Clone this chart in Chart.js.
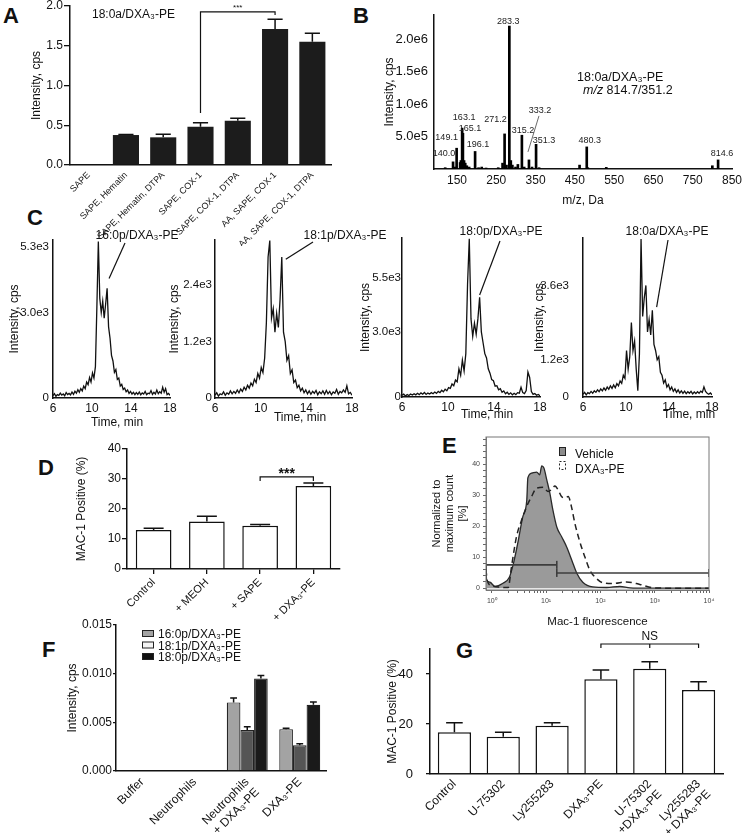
<!DOCTYPE html>
<html>
<head>
<meta charset="utf-8">
<title>DXA3-PE figure</title>
<script src="https://cdn.jsdelivr.net/npm/chart.js@4.4.1/dist/chart.umd.min.js"></script>
<style>
  html, body { margin: 0; padding: 0; background: #fff; }
  #figure { position: relative; width: 750px; height: 833px; overflow: hidden; background: #fff; }
  .panel { position: absolute; }
  .panel canvas { display: block; }
  .letter { position: absolute; font-family: "Liberation Sans", Arial, sans-serif; font-weight: bold; font-size: 22px; line-height: 1; color: #111; }
</style>
</head>
<body>
<div id="figure">
  <div class="letter" style="left:3px;top:5px">A</div>
  <div class="letter" style="left:353px;top:5px">B</div>
  <div class="letter" style="left:27px;top:207px">C</div>
  <div class="letter" style="left:38px;top:457px">D</div>
  <div class="letter" style="left:442px;top:435px">E</div>
  <div class="letter" style="left:42px;top:639px">F</div>
  <div class="letter" style="left:456px;top:640px">G</div>
</div>
<script>
// ---------- data ----------

// A: 18:0a/DXA3-PE formation
const aCategories = ["SAPE", "SAPE, Hematin", "SAPE, Hematin, DTPA", "SAPE, COX-1", "SAPE, COX-1, DTPA", "AA, SAPE, COX-1", "AA, SAPE, COX-1, DTPA"];
const aValues = [0, 0.377, 0.348, 0.482, 0.557, 1.711, 1.551];
const aErrors = [0, 0.008, 0.038, 0.05, 0.03, 0.122, 0.105];
const aTicks = [0, 0.5, 1.0, 1.5, 2.0];

// B: MS/MS spectrum
const bMz = [120, 140.0, 145, 149.1, 158, 160, 163.1, 165.1, 168, 171, 175, 181, 196.1, 205, 213, 224, 255, 266, 271.2, 276, 283.3, 287, 291, 299, 305, 315.2, 321, 333.2, 341, 351.3, 359, 462, 480.3, 483, 530, 800, 814.6];
const bIntensity = [2e4, 1.1e5, 3e4, 3.2e5, 1.0e5, 1.3e5, 6.3e5, 5.5e5, 1.3e5, 9e4, 5e4, 3e4, 2.7e5, 2e4, 3e4, 1.5e4, 2e4, 9e4, 5.4e5, 6e4, 2.2e6, 1.3e5, 6e4, 3e4, 7e4, 5.2e5, 3e4, 1.4e5, 3e4, 3.8e5, 2e4, 6e4, 3.4e5, 2e4, 2.5e4, 5e4, 1.4e5];
const bLabeledMz = [140.0, 149.1, 163.1, 165.1, 196.1, 271.2, 283.3, 315.2, 333.2, 351.3, 480.3, 814.6];
const bTicksX = [150, 250, 350, 450, 550, 650, 750, 850];
const bTicksY = [5e5, 1e6, 1.5e6, 2e6];

// C: LC chromatograms
const cTimes = [
  6.00, 6.15, 6.30, 6.45, 6.60, 6.75, 6.90, 7.05, 7.20, 7.35,
  7.50, 7.65, 7.80, 7.95, 8.10, 8.25, 8.40, 8.55, 8.70, 8.85,
  9.00, 9.15, 9.30, 9.45, 9.60, 9.75, 9.90, 10.05, 10.20, 10.35,
  10.50, 10.65, 10.80, 10.95, 11.10, 11.25, 11.40, 11.55, 11.70, 11.85,
  12.00, 12.15, 12.30, 12.45, 12.60, 12.75, 12.90, 13.05, 13.20, 13.35,
  13.50, 13.65, 13.80, 13.95, 14.10, 14.25, 14.40, 14.55, 14.70, 14.85,
  15.00, 15.15, 15.30, 15.45, 15.60, 15.75, 15.90, 16.05, 16.20, 16.35,
  16.50, 16.65, 16.80, 16.95, 17.10, 17.25, 17.40, 17.55, 17.70, 17.85,
  18.00];
const c160p = [
  80, 150, 60, 120, 90, 170, 100, 140, 80, 190,
  120, 160, 110, 210, 130, 240, 170, 290, 200, 330,
  250, 420, 330, 560, 470, 720, 560, 880, 700, 1100,
  3200, 5500, 3500, 3000, 3400, 2800, 3300, 3850, 2500, 2100,
  1500, 1300, 900, 1000, 650, 700, 420, 480, 300, 350,
  220, 280, 160, 230, 140, 200, 120, 190, 130, 210,
  110, 180, 140, 230, 120, 170, 150, 260, 130, 200,
  140, 280, 150, 220, 170, 380, 200, 330, 120, 160,
  90];
const c181p = [
  60, 110, 40, 90, 70, 130, 60, 110, 80, 150,
  90, 140, 100, 170, 110, 190, 140, 230, 170, 270,
  210, 320, 260, 400, 330, 520, 420, 650, 540, 850,
  1600, 3000, 3350, 1700, 1900, 1400, 1800, 1500, 2100, 3000,
  1400, 1200, 800, 900, 520, 600, 330, 380, 220, 270,
  150, 210, 110, 170, 90, 150, 80, 140, 100, 160,
  70, 130, 90, 150, 80, 160, 90, 140, 70, 130,
  100, 180, 80, 140, 110, 170, 120, 260, 90, 120,
  60];
const c180p = [
  80, 130, 50, 110, 70, 140, 90, 150, 100, 170,
  110, 190, 130, 210, 120, 180, 140, 200, 150, 230,
  170, 260, 200, 310, 240, 360, 290, 430, 400, 600,
  520, 780, 700, 1300, 1000, 1700, 1200, 2000, 5200, 7300,
  3600, 2800, 3400, 2900, 3600, 4600, 3000, 2500, 2000, 1800,
  1300, 1100, 800, 750, 500, 520, 330, 380, 220, 280,
  150, 220, 120, 190, 100, 170, 110, 200, 180, 450,
  200, 160, 300, 1150, 900, 250, 120, 160, 80, 120,
  60];
const c180a = [
  90, 150, 70, 140, 110, 180, 120, 200, 150, 230,
  170, 260, 200, 290, 220, 320, 250, 360, 280, 390,
  300, 430, 360, 520, 440, 700, 600, 1500, 900, 1300,
  2400, 1500, 1800, 900, 200, 1400, 5100, 2600, 3200, 3600,
  2100, 2500, 2000, 2800, 1700, 1500, 1200, 1300, 800, 700,
  450, 550, 320, 400, 230, 320, 180, 260, 150, 230,
  130, 200, 120, 190, 110, 170, 120, 180, 100, 160,
  110, 170, 120, 190, 150, 330, 180, 120, 90, 130,
  70];
const cTicksX = [6, 10, 14, 18];

// D: MAC-1 positive neutrophils
const dCategories = ["Control", "+ MEOH", "+ SAPE", "+ DXA₃-PE"];
const dValues = [13.0, 15.8, 14.4, 27.7];
const dErrors = [0.6, 1.8, 0.4, 1.0];

// E: flow cytometry histograms
const eVehicleX = [0.78, 0.8, 0.92, 1.13, 1.6, 2.1, 2.5, 3.0, 3.7, 4.4, 4.6, 5.5, 6.7, 7.6, 8.3, 9.1, 10.3, 11.7, 13.3, 15.7, 19.4, 24, 29.7, 36.7, 47.3, 72.5, 130, 228, 350, 715, 2000, 10000];
const eVehicleY = [7.2, 2.6, 1.9, 0.6, 1.6, 3.5, 8.0, 14.5, 22.9, 28.4, 35.5, 37.1, 37.4, 36.5, 39.4, 38.7, 34.8, 30.6, 25.2, 19.7, 16.5, 13.2, 9.0, 4.8, 1.9, 0.4, 0.2, 0.6, 0.1, 0, 0, 0];
const eDxaX = [0.78, 0.82, 1.0, 1.4, 2.0, 2.3, 2.84, 3.52, 4.35, 5.38, 6.65, 8.83, 10.9, 12.6, 14.5, 16.7, 19.2, 22.1, 25.5, 29.3, 33.8, 41.8, 51.6, 63.8, 84.7, 112, 171, 302, 532, 935, 1650, 10000];
const eDxaY = [6.0, 2.5, 0.8, 0.3, 0.2, 6.9, 16.5, 21.9, 26.2, 29.5, 32.2, 32.5, 31.1, 31.8, 32.9, 31.6, 29.5, 29.1, 29.5, 26.2, 20.9, 14.9, 10.1, 5.8, 3.1, 1.7, 1.5, 2.0, 1.2, 0.1, 0, 0];
const eGate1X = [0.78, 15.7];
const eGate1Y = [7.5, 7.5];
const eGate2X = [15.7, 10000];
const eGate2Y = [4.9, 4.9];
const eMajorTicks = [1, 10, 100, 1000, 10000];
const eMajorLabels = ["10⁰", "10¹", "10²", "10³", "10⁴"];
const eYLabels = [0, 10, 20, 30, 40];

// F: PE species in neutrophils
const fCategories = ["Buffer", "Neutrophils", ["Neutrophils", "+ DXA₃-PE"], "DXA₃-PE"];
const fSeries = ["16:0p/DXA₃-PE", "18:1p/DXA₃-PE", "18:0p/DXA₃-PE"];
const f160p = [0, 0, 0.00705, 0.0043];
const f181p = [0, 0, 0.0042, 0.00264];
const f180p = [0, 0, 0.0095, 0.0068];
const f160pErr = [0, 0, 0.00045, 0.0001];
const f181pErr = [0, 0, 0.00035, 0.00016];
const f180pErr = [0, 0, 0.0003, 0.0003];
const fTicks = [0, 0.005, 0.01, 0.015];

// G: receptor antagonists
const gCategories = ["Control", "U-75302", "Ly255283", "DXA₃-PE", ["U-75302", "+DXA₃-PE"], ["Ly255283", "+ DXA₃-PE"]];
const gValues = [16.7, 14.9, 19.3, 37.9, 42.1, 33.6];
const gErrors = [3.8, 1.8, 1.2, 3.7, 2.8, 3.3];
const gTicks = [0, 20, 40];

// ---------- shared setup ----------
const FONT = "'Liberation Sans', Arial, Helvetica, sans-serif";
const INK = "#111";
Chart.defaults.font.family = FONT;
Chart.defaults.color = INK;
Chart.defaults.animation = false;
Chart.defaults.responsive = false;
Chart.defaults.devicePixelRatio = 1;
Chart.defaults.events = [];
Chart.defaults.plugins.legend.display = false;
Chart.defaults.plugins.tooltip.enabled = false;

const figure = document.getElementById("figure");

function setup(box) {
  const holder = document.createElement("div");
  holder.className = "panel";
  holder.style.left = box.x + "px";
  holder.style.top = box.y + "px";
  const canvas = document.createElement("canvas");
  canvas.width = box.w;
  canvas.height = box.h;
  holder.appendChild(canvas);
  figure.appendChild(holder);
  return canvas.getContext("2d");
}

// put the plot area exactly at `area` (page coords) inside `box`
function layoutFor(box, area) {
  return { padding: { left: 0, top: area.y0 - box.y, right: box.x + box.w - area.x1, bottom: 0 } };
}
const fitWidth = (box, area) => (s) => { s.width = area.x0 - box.x; };
const fitHeight = (box, area) => (s) => { s.height = box.y + box.h - area.y1; };

function yTitle(text, cx, box, size) {
  return { display: true, text, color: INK, font: { size }, padding: { top: cx - box.x - size * 0.6, bottom: 0 } };
}
function xTitle(text, cy, box, size) {
  return { display: true, text, color: INK, font: { size }, padding: { top: 0, bottom: box.y + box.h - cy - size * 0.6 } };
}
const fixedTicks = (list) => (s) => { s.ticks = list.map((v) => ({ value: v })); };

// error bars (upper only) from dataset.errors
const errorBars = {
  id: "errorBars",
  afterDatasetsDraw(chart) {
    const ctx = chart.ctx;
    const y = chart.scales.y;
    chart.data.datasets.forEach((ds, di) => {
      if (!ds.errors) return;
      const meta = chart.getDatasetMeta(di);
      ctx.save();
      ctx.strokeStyle = INK;
      ctx.lineWidth = 1.5;
      meta.data.forEach((bar, i) => {
        const err = ds.errors[i];
        if (!err) return;
        const top = y.getPixelForValue(ds.data[i] + err);
        const half = bar.width * ds.capFrac;
        ctx.beginPath();
        ctx.moveTo(bar.x, bar.y);
        ctx.lineTo(bar.x, top);
        ctx.moveTo(bar.x - half, top);
        ctx.lineTo(bar.x + half, top);
        ctx.stroke();
      });
      ctx.restore();
    });
  },
};

// significance bracket between two categories
function bracket(spec) {
  return {
    id: "bracket",
    afterDatasetsDraw(chart) {
      const { ctx, scales: { x, y } } = chart;
      const xl = x.getPixelForValue(spec.from);
      const xr = x.getPixelForValue(spec.to);
      const yt = y.getPixelForValue(spec.top);
      ctx.save();
      ctx.strokeStyle = INK;
      ctx.lineWidth = 1.2;
      ctx.beginPath();
      ctx.moveTo(xl, y.getPixelForValue(spec.leftEnd));
      ctx.lineTo(xl, yt);
      ctx.lineTo(xr, yt);
      ctx.lineTo(xr, y.getPixelForValue(spec.rightEnd));
      if (spec.mid != null) {
        const xm = x.getPixelForValue(spec.mid);
        ctx.moveTo(xm, yt);
        ctx.lineTo(xm, y.getPixelForValue(spec.rightEnd));
      }
      ctx.stroke();
      ctx.fillStyle = INK;
      ctx.font = spec.font + " " + FONT;
      ctx.textAlign = "center";
      ctx.textBaseline = "alphabetic";
      ctx.fillText(spec.label, (xl + xr) / 2, yt + spec.baseline);
      ctx.restore();
    },
  };
}

// free text, leader lines and legend swatches, in page coordinates
function drawParts(ctx, n) {
  const size = n.size || 12;
  const parts = n.parts || [{ t: n.text }];
  const fontOf = (p) => (p.italic ? "italic " : "") + (n.bold ? "bold " : "") + size + "px " + FONT;
  let total = 0;
  parts.forEach((p) => { ctx.font = fontOf(p); total += ctx.measureText(p.t).width; });
  let x = n.x;
  if (n.align === "center") x -= total / 2;
  if (n.align === "right") x -= total;
  ctx.textAlign = "left";
  ctx.textBaseline = "middle";
  ctx.fillStyle = n.color || INK;
  parts.forEach((p) => {
    ctx.font = fontOf(p);
    ctx.fillText(p.t, x, n.y);
    x += ctx.measureText(p.t).width;
  });
}

function notes(box, items, frame) {
  return {
    id: "notes",
    afterDraw(chart) {
      const ctx = chart.ctx;
      const sx = chart.scales.x;
      const sy = chart.scales.y;
      ctx.save();
      if (frame) {
        const a = chart.chartArea;
        ctx.strokeStyle = "#777";
        ctx.lineWidth = 1;
        ctx.strokeRect(a.left, a.top, a.right - a.left, a.bottom - a.top);
      }
      ctx.translate(-box.x, -box.y);
      items.forEach((n) => {
        if (n.leader) {
          const x1 = sx.getPixelForValue(n.leader[0]) + box.x;
          const y1 = sy.getPixelForValue(n.leader[1]) + box.y;
          ctx.strokeStyle = INK;
          ctx.lineWidth = 1.2;
          ctx.beginPath();
          ctx.moveTo(x1, y1);
          ctx.lineTo(n.to[0], n.to[1]);
          ctx.stroke();
        } else if (n.swatch) {
          ctx.fillStyle = n.swatch;
          ctx.fillRect(n.x, n.y, n.w, n.h);
          ctx.strokeStyle = "#222";
          ctx.lineWidth = 1;
          ctx.setLineDash(n.dash || []);
          ctx.strokeRect(n.x + 0.5, n.y + 0.5, n.w, n.h);
          ctx.setLineDash([]);
        } else {
          drawParts(ctx, n);
        }
      });
      ctx.restore();
    },
  };
}

const solidAxis = { color: INK, width: 1.5 };

// ---------- A ----------
const aBox = { x: 28, y: -6, w: 316, h: 252 };
const aArea = { x0: 70, y0: 6, x1: 331, y1: 165 };
new Chart(setup(aBox), {
  type: "bar",
  data: {
    labels: aCategories,
    datasets: [{ data: aValues, errors: aErrors, capFrac: 0.29, backgroundColor: "#1c1c1c", barPercentage: 0.7, categoryPercentage: 1 }],
  },
  options: {
    layout: layoutFor(aBox, aArea),
    scales: {
      x: {
        afterFit: fitHeight(aBox, aArea),
        grid: { display: false, drawTicks: false },
        border: solidAxis,
        ticks: { font: { size: 9 }, minRotation: 45, maxRotation: 45, autoSkip: false, padding: 5 },
      },
      y: {
        min: 0, max: 2,
        afterFit: fitWidth(aBox, aArea),
        afterBuildTicks: fixedTicks(aTicks),
        grid: { drawOnChartArea: false, tickLength: 6, color: INK, lineWidth: 1.3 },
        border: solidAxis,
        ticks: { font: { size: 12 }, padding: 1, callback: (v) => v.toFixed(1) },
        title: yTitle("Intensity, cps", 37, aBox, 12),
      },
    },
  },
  plugins: [
    errorBars,
    bracket({ from: 3, to: 5, top: 1.925, leftEnd: 0.654, rightEnd: 1.887, label: "***", font: "8px", baseline: -1.5 }),
    notes(aBox, [{ text: "18:0a/DXA₃-PE", x: 92, y: 15, size: 12 }]),
  ],
});

// ---------- B ----------
const bBox = { x: 381, y: 0, w: 369, h: 212 };
const bArea = { x0: 434, y0: 15, x1: 732, y1: 169 };
const bLabelOffsets = {
  "140.0": [-9, -8], "149.1": [-10, -11], "163.1": [2, -11], "165.1": [7, -5], "196.1": [3, -7],
  "271.2": [-9, -14], "283.3": [-1, -5], "315.2": [1, -5], "333.2": [11, -49], "351.3": [8, -4],
  "480.3": [3, -6], "814.6": [4, -6],
};
const peakLabels = {
  id: "peakLabels",
  afterDatasetsDraw(chart) {
    const { ctx, scales: { x, y } } = chart;
    ctx.save();
    ctx.font = "9px " + FONT;
    ctx.fillStyle = "#222";
    ctx.strokeStyle = "#444";
    ctx.lineWidth = 0.8;
    ctx.textAlign = "center";
    ctx.textBaseline = "middle";
    bLabeledMz.forEach((mz) => {
      const i = bMz.indexOf(mz);
      const px = x.getPixelForValue(mz);
      const py = y.getPixelForValue(bIntensity[i]);
      const key = mz.toFixed(1);
      const off = bLabelOffsets[key];
      ctx.fillText(key, px + off[0], py + off[1]);
      if (key === "333.2") {
        ctx.beginPath();
        ctx.moveTo(px - 1, py - 8);
        ctx.lineTo(px + 10, py - 44);
        ctx.stroke();
      }
    });
    ctx.restore();
  },
};
new Chart(setup(bBox), {
  type: "bar",
  data: {
    datasets: [{ data: bMz.map((m, i) => ({ x: m, y: bIntensity[i] })), backgroundColor: "#000", barThickness: 2 }],
  },
  options: {
    layout: layoutFor(bBox, bArea),
    scales: {
      x: {
        type: "linear", min: 91.5, max: 850, offset: false,
        afterFit: fitHeight(bBox, bArea),
        afterBuildTicks: fixedTicks(bTicksX),
        grid: { display: false, drawTicks: false, offset: false },
        border: solidAxis,
        ticks: { font: { size: 12 }, padding: 4 },
        title: xTitle("m/z, Da", 201, bBox, 12),
      },
      y: {
        min: 0, max: 2.37e6,
        afterFit: fitWidth(bBox, bArea),
        afterBuildTicks: fixedTicks(bTicksY),
        grid: { display: false, drawTicks: false },
        border: solidAxis,
        ticks: { font: { size: 13 }, padding: 6, callback: (v) => v.toExponential(1).replace("e+", "e") },
        title: yTitle("Intensity, cps", 390, bBox, 12),
      },
    },
  },
  plugins: [
    peakLabels,
    notes(bBox, [
      { text: "18:0a/DXA₃-PE", x: 577, y: 78, size: 12.5 },
      { parts: [{ t: "m/z", italic: true }, { t: " 814.7/351.2" }], x: 583, y: 91, size: 12.5 },
    ]),
  ],
});

// ---------- C ----------
function chromatogram(box, area, values, yMax, yTicks, yPad, titleX, items) {
  new Chart(setup(box), {
    type: "line",
    data: {
      datasets: [{
        data: cTimes.map((t, i) => ({ x: t, y: values[i] })),
        borderColor: INK, borderWidth: 1.3, pointRadius: 0, tension: 0,
      }],
    },
    options: {
      layout: layoutFor(box, area),
      scales: {
        x: {
          type: "linear", min: 6, max: 18,
          afterFit: fitHeight(box, area),
          afterBuildTicks: fixedTicks(cTicksX),
          grid: { display: false, drawTicks: false },
          border: solidAxis,
          ticks: { font: { size: 12 }, padding: 3 },
        },
        y: {
          min: 0, max: yMax,
          afterFit: fitWidth(box, area),
          afterBuildTicks: fixedTicks(yTicks),
          grid: { display: false, drawTicks: false },
          border: solidAxis,
          ticks: { font: { size: 11.5 }, padding: yPad, callback: (v) => (v === 0 ? "0" : (v / 1000).toFixed(1) + "e3") },
          title: yTitle("Intensity, cps", titleX, box, 12),
        },
      },
    },
    plugins: [notes(box, items)],
  });
}

chromatogram({ x: 6, y: 200, w: 184, h: 232 }, { x0: 53, y0: 240, x1: 170, y1: 398 }, c160p, 5550, [0, 3000, 5300], 4, 15, [
  { text: "16:0p/DXA₃-PE", x: 137, y: 236, align: "center" },
  { leader: [11.75, 4200], to: [125, 243] },
  { text: "Time, min", x: 117, y: 423, align: "center" },
]);
chromatogram({ x: 166, y: 200, w: 224, h: 232 }, { x0: 215, y0: 240, x1: 352, y1: 398 }, c181p, 3360, [0, 1200, 2400], 3, 175, [
  { text: "18:1p/DXA₃-PE", x: 345, y: 236, align: "center" },
  { leader: [12.2, 2950], to: [313, 242] },
  { text: "Time, min", x: 300, y: 418, align: "center" },
]);
chromatogram({ x: 357, y: 200, w: 203, h: 232 }, { x0: 402, y0: 238, x1: 540, y1: 397 }, c180p, 7330, [0, 3000, 5500], 1, 366, [
  { text: "18:0p/DXA₃-PE", x: 501, y: 232, align: "center" },
  { leader: [12.75, 4700], to: [500, 241] },
  { text: "Time, min", x: 487, y: 415, align: "center" },
]);
chromatogram({ x: 531, y: 200, w: 214, h: 232 }, { x0: 583, y0: 238, x1: 712, y1: 397 }, c180a, 5130, [0, 1200, 3600], 14, 540, [
  { text: "18:0a/DXA₃-PE", x: 667, y: 232, align: "center" },
  { leader: [12.85, 2900], to: [668, 240] },
  { text: "Time, min", x: 689, y: 415, align: "center" },
]);

// ---------- D ----------
const dBox = { x: 73, y: 430, w: 277, h: 210 };
const dArea = { x0: 127, y0: 449, x1: 340, y1: 569 };
new Chart(setup(dBox), {
  type: "bar",
  data: {
    labels: dCategories,
    datasets: [{ data: dValues, errors: dErrors, capFrac: 0.28, backgroundColor: "#fff", borderColor: INK, borderWidth: 1.5, barPercentage: 0.67, categoryPercentage: 1 }],
  },
  options: {
    layout: layoutFor(dBox, dArea),
    scales: {
      x: {
        afterFit: fitHeight(dBox, dArea),
        grid: { drawOnChartArea: false, offset: false, tickLength: 5, color: INK, lineWidth: 1.3 },
        border: solidAxis,
        ticks: { font: { size: 11 }, minRotation: 45, maxRotation: 45, autoSkip: false, padding: 2 },
      },
      y: {
        min: 0, max: 40,
        afterFit: fitWidth(dBox, dArea),
        grid: { drawOnChartArea: false, tickLength: 5, color: INK, lineWidth: 1.3 },
        border: solidAxis,
        ticks: { font: { size: 12 }, stepSize: 10, padding: 1 },
        title: yTitle("MAC-1 Positive (%)", 82, dBox, 12),
      },
    },
  },
  plugins: [errorBars, bracket({ from: 2, to: 3, top: 30.7, leftEnd: 29.3, rightEnd: 29.3, label: "***", font: "bold 14px", baseline: 1 })],
});

// ---------- E ----------
const eBox = { x: 428, y: 428, w: 300, h: 202 };
const eArea = { x0: 486, y0: 437, x1: 709, y1: 590 };
const toPoints = (xs, ys) => xs.map((x, i) => ({ x, y: ys[i] }));
new Chart(setup(eBox), {
  type: "line",
  data: {
    datasets: [
      // higher order is drawn first, so the filled vehicle curve sits underneath
      { order: 3, data: toPoints(eVehicleX, eVehicleY), fill: "origin", backgroundColor: "#9a9a9a", borderColor: "#2a2a2a", borderWidth: 1.3, pointRadius: 0, cubicInterpolationMode: "monotone" },
      { order: 2, data: toPoints(eDxaX, eDxaY), fill: false, borderColor: "#222", borderWidth: 1.5, borderDash: [6, 4], pointRadius: 0, cubicInterpolationMode: "monotone" },
      { order: 1, data: toPoints(eGate1X, eGate1Y), borderColor: "#3c3c3c", borderWidth: 1.6, pointStyle: "line", rotation: 90, pointRadius: [0, 4], pointBorderColor: "#3c3c3c", pointBorderWidth: 1.6 },
      { order: 0, data: toPoints(eGate2X, eGate2Y), borderColor: "#3c3c3c", borderWidth: 1.6, pointStyle: "line", rotation: 90, pointRadius: [4, 4], pointBorderColor: "#3c3c3c", pointBorderWidth: 1.6 },
    ],
  },
  options: {
    layout: layoutFor(eBox, eArea),
    scales: {
      x: {
        type: "logarithmic", min: 0.78, max: 10000,
        afterFit: fitHeight(eBox, eArea),
        afterBuildTicks: (s) => {
          const list = [];
          eMajorTicks.slice(0, -1).forEach((m) => {
            for (let k = 1; k < 10; k++) list.push({ value: m * k });
          });
          list.push({ value: 10000 });
          s.ticks = list;
        },
        grid: { drawOnChartArea: false, tickLength: 3, color: "#666" },
        border: { color: "#777", width: 1 },
        ticks: {
          font: { size: 7 }, color: "#444", padding: 4, autoSkip: false, maxRotation: 0,
          callback: (v) => { const i = eMajorTicks.indexOf(v); return i >= 0 ? eMajorLabels[i] : ""; },
        },
        title: xTitle("Mac-1 fluorescence", 622, eBox, 11.5),
      },
      y: {
        min: -0.6, max: 48.7,
        afterFit: fitWidth(eBox, eArea),
        afterBuildTicks: (s) => {
          const list = [];
          for (let v = 0; v <= 48; v += 2) list.push({ value: v });
          s.ticks = list;
        },
        grid: { drawOnChartArea: false, tickLength: 3, color: "#666" },
        border: { color: "#777", width: 1 },
        ticks: { font: { size: 7 }, color: "#444", padding: 3, autoSkip: false, callback: (v) => (eYLabels.includes(v) ? String(v) : "") },
        title: { display: true, text: ["Normalized to", "maximum count", "[%]"], color: INK, font: { size: 11 }, padding: { top: 437 - eBox.x - 6.6, bottom: 0 } },
      },
    },
  },
  plugins: [
    notes(eBox, [
      { swatch: "#8c8c8c", x: 559, y: 447, w: 6, h: 8 },
      { text: "Vehicle", x: 575, y: 455, size: 12 },
      { swatch: "rgba(0,0,0,0)", x: 559, y: 461, w: 6, h: 8, dash: [2, 2] },
      { text: "DXA₃-PE", x: 575, y: 470, size: 12 },
    ], true),
  ],
});

// ---------- F ----------
const fBox = { x: 64, y: 610, w: 276, h: 223 };
const fArea = { x0: 116, y0: 625, x1: 326, y1: 771 };
const fColors = ["#a3a3a3", "#555", "#1a1a1a"];
const fSwatches = ["#a3a3a3", "#f4f4f4", "#111"];
new Chart(setup(fBox), {
  type: "bar",
  data: {
    labels: fCategories,
    datasets: [
      { label: fSeries[0], data: f160p, errors: f160pErr },
      { label: fSeries[1], data: f181p, errors: f181pErr },
      { label: fSeries[2], data: f180p, errors: f180pErr },
    ].map((ds, i) => Object.assign(ds, { capFrac: 0.25, backgroundColor: fColors[i], borderColor: "#222", borderWidth: 1.2, barPercentage: 1, categoryPercentage: 0.78 })),
  },
  options: {
    layout: layoutFor(fBox, fArea),
    scales: {
      x: {
        afterFit: fitHeight(fBox, fArea),
        grid: { display: false, drawTicks: false },
        border: solidAxis,
        ticks: { font: { size: 12 }, minRotation: 45, maxRotation: 45, autoSkip: false, padding: 4 },
      },
      y: {
        min: 0, max: 0.015,
        afterFit: fitWidth(fBox, fArea),
        afterBuildTicks: fixedTicks(fTicks),
        grid: { drawOnChartArea: false, tickLength: 3, color: INK, lineWidth: 1.3 },
        border: solidAxis,
        ticks: { font: { size: 12 }, padding: 1, callback: (v) => v.toFixed(3) },
        title: yTitle("Intensity, cps", 73, fBox, 12),
      },
    },
  },
  plugins: [
    errorBars,
    notes(fBox, fSeries.flatMap((name, i) => [
      { swatch: fSwatches[i], x: 142, y: 630 + i * 11.5, w: 11, h: 6 },
      { text: name, x: 158, y: 635 + i * 11.5, size: 12 },
    ])),
  ],
});

// ---------- G ----------
const gBox = { x: 384, y: 620, w: 361, h: 213 };
const gArea = { x0: 430, y0: 649, x1: 723, y1: 774 };
new Chart(setup(gBox), {
  type: "bar",
  data: {
    labels: gCategories,
    datasets: [{ data: gValues, errors: gErrors, capFrac: 0.25, backgroundColor: "#fff", borderColor: INK, borderWidth: 1.5, barPercentage: 0.68, categoryPercentage: 1 }],
  },
  options: {
    layout: layoutFor(gBox, gArea),
    scales: {
      x: {
        afterFit: fitHeight(gBox, gArea),
        grid: { display: false, drawTicks: false },
        border: solidAxis,
        ticks: { font: { size: 12 }, minRotation: 45, maxRotation: 45, autoSkip: false, padding: 3 },
      },
      y: {
        min: 0, max: 50,
        afterFit: fitWidth(gBox, gArea),
        afterBuildTicks: fixedTicks(gTicks),
        grid: { drawOnChartArea: false, tickLength: 4, color: INK, lineWidth: 1.3 },
        border: solidAxis,
        ticks: { font: { size: 13 }, padding: 13 },
        title: yTitle("MAC-1 Positive (%)", 393, gBox, 12),
      },
    },
  },
  plugins: [errorBars, bracket({ from: 3, to: 5, mid: 4, top: 52, leftEnd: 50.4, rightEnd: 50.4, label: "NS", font: "12px", baseline: -4 })],
});
</script>
</body>
</html>
